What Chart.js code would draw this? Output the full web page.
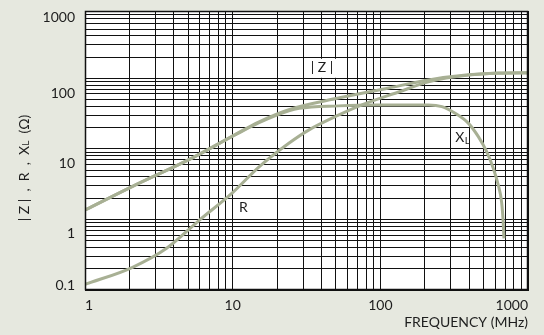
<!DOCTYPE html>
<html>
<head>
<meta charset="utf-8">
<script src="https://cdn.jsdelivr.net/npm/chart.js@4.4.0/dist/chart.umd.min.js"></script>
<style>
    html, body { margin: 0; padding: 0; background: #e6e8df; }
    canvas { display: block; }
</style>
</head>
<body>
<canvas id="impedance_graph" width="544" height="335"></canvas>
<script>
// |Z| curve (MHz, ohm)
const freqZ = [1, 2.1, 5.3, 10.3, 15.1, 24, 52, 114, 212, 394, 629, 1000];
const valZ  = [1.36, 2.95, 7.4, 15.8, 24.2, 36, 52.5, 73, 95, 112, 119, 120];

// R curve
const freqR = [1, 2.1, 3.57, 5.96, 9.95, 15.1, 24, 32.9, 52, 75, 133, 212, 394, 629, 1000];
const valR  = [0.12, 0.21, 0.39, 0.98, 2.38, 5.56, 12, 18.6, 30, 42, 64, 89, 111, 118, 119];

// XL curve
const freqX = [1, 2.1, 5.3, 10.3, 15.1, 24, 28.2, 52, 90, 133, 212, 261, 321, 394, 461, 524, 582, 629, 662, 679, 687];
const valX  = [1.36, 2.95, 7.4, 15.6, 23.5, 34.5, 37.5, 40.7, 42, 42, 42, 39.8, 32.1, 23.2, 14.9, 9.2, 5.3, 3.08, 1.79, 0.93, 0.54];

// labelled decades
const xTicks = [1, 10, 100, 1000];
const yTicks = [0.1, 1, 10, 100, 1000];

const curveColor = '#a8b094';
const textColor = '#1e1e1e';
const fontFamily = 'Lato, "Open Sans", sans-serif';

function toPoints(xs, ys) {
    return xs.map((f, i) => ({ x: f, y: ys[i] }));
}

// every 1..9 x 10^n between lo and hi
function logGrid(lo, hi) {
    const out = [];
    for (let e = Math.floor(Math.log10(lo)); e <= Math.ceil(Math.log10(hi)); e++) {
        for (let s = 1; s <= 9; s++) {
            const v = +(s * Math.pow(10, e)).toPrecision(3);
            if (v >= lo - 1e-9 && v <= hi + 1e-9) out.push({ value: v });
        }
    }
    return out;
}

const textPlugin = {
    id: 'textPlugin',
    beforeDraw(chart) {
        const { ctx, chartArea: a } = chart;
        ctx.save();
        ctx.fillStyle = '#ffffff';
        ctx.fillRect(a.left, a.top, a.right - a.left, a.bottom - a.top);
        ctx.restore();
    },
    afterDatasetsDraw(chart) {
        const { ctx, chartArea: a, scales: { x, y } } = chart;
        ctx.save();

        // frame
        ctx.strokeStyle = '#111';
        ctx.lineWidth = 1.5;
        ctx.strokeRect(a.left + 0.5, a.top + 0.5, a.right - a.left - 1, a.bottom - a.top - 1);

        // y tick labels (sit a little under their line, like the original)
        const shift = [-5, 14.5, 15, 15.5, 10];
        ctx.fillStyle = textColor;
        ctx.font = '14px ' + fontFamily;
        ctx.textAlign = 'right';
        ctx.textBaseline = 'middle';
        yTicks.forEach((v, i) => {
            ctx.fillText(String(v), 75, y.getPixelForValue(v) + shift[i]);
        });

        // y axis title, rotated, with subscript L
        ctx.save();
        ctx.translate(24, 168);
        ctx.rotate(-Math.PI / 2);
        const big = '14px ' + fontFamily;
        const small = '10px ' + fontFamily;
        const parts = [
            ['| Z |  ,  R  ,  X', big, 0],
            ['L', small, 2],
            ['  (\u03A9)', big, 0]
        ];
        let total = 0;
        parts.forEach(p => { ctx.font = p[1]; total += ctx.measureText(p[0]).width; });
        let cx = -total / 2;
        ctx.textAlign = 'left';
        parts.forEach(p => {
            ctx.font = p[1];
            ctx.fillText(p[0], cx, p[2]);
            cx += ctx.measureText(p[0]).width;
        });
        ctx.restore();

        // curve labels
        ctx.font = '14px ' + fontFamily;
        ctx.textAlign = 'center';
        const zx = x.getPixelForValue(40.3), zy = y.getPixelForValue(141);
        ctx.fillStyle = '#ffffff';
        ctx.fillRect(zx - 15, zy - 9, 30, 19);
        ctx.fillStyle = textColor;
        ctx.fillText('| Z |', zx, zy);

        ctx.fillText('R', x.getPixelForValue(11.8), y.getPixelForValue(1.46));

        const lx = x.getPixelForValue(345), ly = y.getPixelForValue(14.3);
        ctx.fillText('X', lx, ly);
        ctx.font = '10px ' + fontFamily;
        ctx.textAlign = 'left';
        ctx.fillText('L', lx + 5, ly + 3);

        ctx.restore();
    }
};

const canvas = document.getElementById('impedance_graph');
const ctx = canvas.getContext('2d');

const dsStyle = {
    borderColor: curveColor,
    borderWidth: 3,
    pointRadius: 0,
    fill: false,
    cubicInterpolationMode: 'monotone'
};

new Chart(ctx, {
    type: 'line',
    data: {
        datasets: [
            Object.assign({ label: '|Z|', data: toPoints(freqZ, valZ) }, dsStyle),
            Object.assign({ label: 'R', data: toPoints(freqR, valR) }, dsStyle),
            Object.assign({ label: 'XL', data: toPoints(freqX, valX) }, dsStyle)
        ]
    },
    options: {
        responsive: false,
        animation: false,
        layout: { padding: { top: 11, right: 16, left: 0, bottom: 0 } },
        plugins: {
            legend: { display: false },
            tooltip: { enabled: false }
        },
        scales: {
            x: {
                type: 'logarithmic',
                min: 1,
                max: 1000,
                afterBuildTicks: s => { s.ticks = logGrid(1, 1000); },
                afterFit: s => { s.height = 45; },
                grid: { color: '#111', lineWidth: 1, drawTicks: false },
                border: { display: true, color: '#111' },
                ticks: {
                    autoSkip: false,
                    maxRotation: 0,
                    align: 'inner',
                    padding: 7,
                    color: textColor,
                    font: { family: fontFamily, size: 14 },
                    callback: v => xTicks.includes(v) ? String(v) : ''
                },
                title: {
                    display: true,
                    text: 'FREQUENCY (MHz)',
                    align: 'end',
                    color: textColor,
                    padding: { top: 0, bottom: 4 },
                    font: { family: fontFamily, size: 14 }
                }
            },
            y: {
                type: 'logarithmic',
                min: 0.1,
                max: 900,
                afterBuildTicks: s => { s.ticks = logGrid(0.1, 900); },
                afterFit: s => { s.width = 85; },
                grid: { color: '#111', lineWidth: 1, drawTicks: false },
                border: { display: true, color: '#111' },
                ticks: { display: false }
            }
        }
    },
    plugins: [textPlugin]
});
</script>
</body>
</html>
